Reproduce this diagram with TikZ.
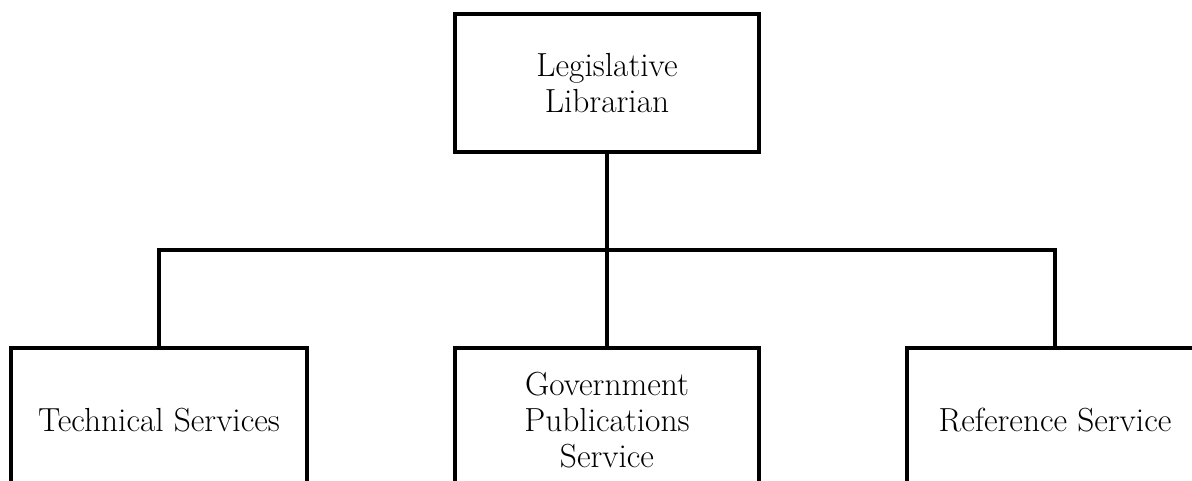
\documentclass[tikz,border=0pt]{standalone}
\usepackage{tikz}
\usetikzlibrary{calc}

\tikzset{
	orgbox/.style={draw, line width=0.08cm, align=center, inner sep=0pt,
		font=\fontsize{19}{20.5}\selectfont},
	orgline/.style={line width=0.08cm}
}

\begin{document}
\begin{tikzpicture}
		%%%%% START %%%%%
		\useasboundingbox (0, 0) rectangle (23.84, -9.62);
		\clip (0, 0) rectangle (23.84, -9.62);
		
		\node[orgbox, minimum width=6.08cm, minimum height=2.75cm] (lib) at (12.14, -1.66) {Legislative\\Librarian};
		
		\node[orgbox, minimum width=5.92cm, minimum height=2.88cm] (tech) at (3.18, -8.4) {Technical Services};
		\node[orgbox, minimum width=6.08cm, minimum height=2.88cm] (gov) at (12.14, -8.4) {Government\\Publications\\Service};
		\node[orgbox, minimum width=5.92cm, minimum height=2.88cm] (ref) at (21.1, -8.4) {Reference Service};
		
		\coordinate (bus) at (12.14, -5);
		
		\draw[orgline] (lib.south) -- (gov.north);
		\draw[orgline] (tech.north) |- (bus) -| (ref.north);
		%%%%% END %%%%%
	\end{tikzpicture}
\end{document}
